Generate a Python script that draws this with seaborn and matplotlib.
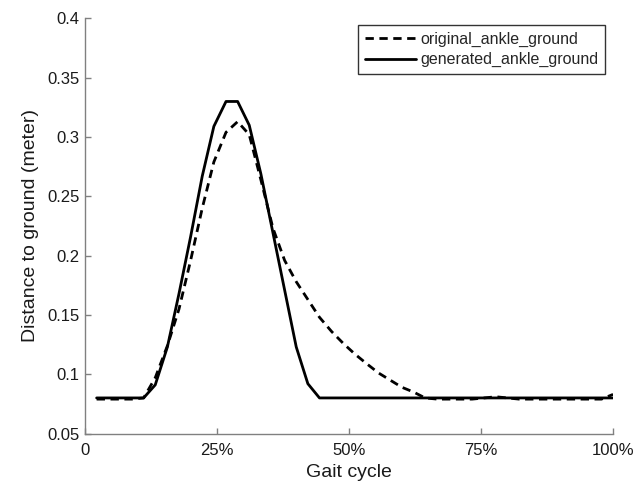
import pandas as pd
import seaborn as sns
import matplotlib.pyplot as plt

# gait cycle sample positions (percent)
gait = [2.2, 4.4, 6.7, 8.9, 11.1, 13.3, 15.6, 17.8, 20.0, 22.2, 24.4, 26.7, 28.9, 31.1, 33.3,
        35.6, 37.8, 40.0, 42.2, 44.4, 46.7, 48.9, 51.1, 53.3, 55.6, 57.8, 60.0, 62.2, 64.4,
        66.7, 68.9, 71.1, 73.3, 75.6, 77.8, 80.0, 82.2, 84.4, 86.7, 88.9, 91.1, 93.3, 95.6,
        97.8, 100.0]

original = [0.079, 0.079, 0.079, 0.079, 0.080, 0.097, 0.124, 0.155, 0.196, 0.240, 0.279,
            0.304, 0.313, 0.302, 0.264, 0.223, 0.196, 0.178, 0.163, 0.148, 0.136, 0.126,
            0.117, 0.109, 0.101, 0.095, 0.089, 0.085, 0.080,
            0.079, 0.079, 0.079, 0.079, 0.080, 0.081, 0.080, 0.079, 0.079, 0.079, 0.079,
            0.079, 0.079, 0.079, 0.079, 0.083]

generated = [0.080, 0.080, 0.080, 0.080, 0.080, 0.091, 0.123, 0.168, 0.216, 0.267, 0.309,
             0.330, 0.330, 0.310, 0.269, 0.219, 0.171, 0.123, 0.092,
             0.080, 0.080, 0.080, 0.080, 0.080, 0.080, 0.080, 0.080, 0.080, 0.080, 0.080,
             0.080, 0.080, 0.080, 0.080, 0.080, 0.080, 0.080, 0.080, 0.080, 0.080, 0.080,
             0.080, 0.080, 0.080, 0.080]

x_ticks = [0, 25, 50, 75, 100]
x_tick_labels = ['0', '25%', '50%', '75%', '100%']
y_ticks = [0.05, 0.1, 0.15, 0.2, 0.25, 0.3, 0.35, 0.4]
y_tick_labels = ['0.05', '0.1', '0.15', '0.2', '0.25', '0.3', '0.35', '0.4']

df = pd.DataFrame({'gait': gait, 'original': original, 'generated': generated})

sns.set_style('ticks')
plt.rcParams['font.family'] = ['Liberation Sans', 'DejaVu Sans']

fig, ax = plt.subplots(figsize=(6.44, 4.86), dpi=100)
fig.subplots_adjust(left=0.132, right=0.952, bottom=0.108, top=0.962)

sns.lineplot(data=df, x='gait', y='original', ax=ax, color='black', linewidth=2,
             linestyle=(0, (3, 2)), label='original_ankle_ground')
sns.lineplot(data=df, x='gait', y='generated', ax=ax, color='black', linewidth=2,
             label='generated_ankle_ground')

ax.set_xlim(0, 100)
ax.set_ylim(0.05, 0.4)
ax.set_xticks(x_ticks)
ax.set_xticklabels(x_tick_labels)
ax.set_yticks(y_ticks)
ax.set_yticklabels(y_tick_labels)

ax.set_xlabel('Gait cycle', fontsize=14, color='#1a1a1a', labelpad=4)
ax.set_ylabel('Distance to ground (meter)', fontsize=14, color='#1a1a1a', labelpad=6)

sns.despine(ax=ax)
for side in ['left', 'bottom']:
    ax.spines[side].set_color('#808080')
    ax.spines[side].set_linewidth(1.0)
ax.tick_params(direction='in', length=4, width=1, color='#808080',
               labelsize=12, labelcolor='#1a1a1a')
ax.tick_params(axis='x', pad=7)
ax.tick_params(axis='y', pad=4)

leg = ax.legend(loc='upper right', bbox_to_anchor=(0.985, 0.984), borderaxespad=0,
                fontsize=11.5, frameon=True, fancybox=False, handlelength=3.2,
                handletextpad=0.3, borderpad=0.4, labelspacing=0.35)
leg.get_frame().set_edgecolor('black')
leg.get_frame().set_linewidth(1.0)

plt.savefig('out.png', dpi=100)
